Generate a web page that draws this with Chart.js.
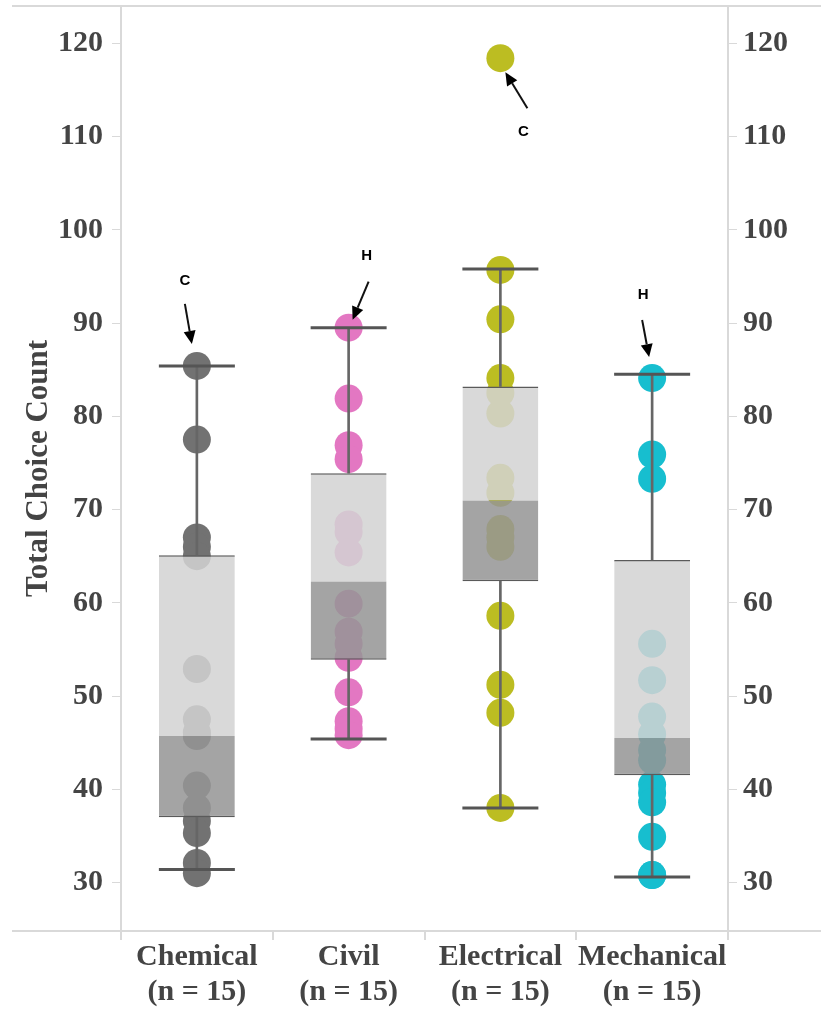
<!DOCTYPE html>
<html>
<head>
<meta charset="utf-8">
<script src="https://cdn.jsdelivr.net/npm/chart.js@4.4.1/dist/chart.umd.min.js"></script>
<style>
  html, body { margin: 0; padding: 0; background: #ffffff; }
  #wrap { width: 821px; height: 1009px; }
</style>
</head>
<body>
<div id="wrap"><canvas id="boxChart" width="821" height="1009"></canvas></div>
<script>
// data
const categories = ['Chemical', 'Civil', 'Electrical', 'Mechanical'];
const sampleSizes = [15, 15, 15, 15];

const chemicalValues = [85.4, 77.5, 67.0, 66.0, 65.0, 52.9, 47.5, 46.1, 45.7, 40.4, 38.0, 36.6, 35.3, 32.1, 31.0];
const civilValues = [89.5, 81.9, 76.9, 75.4, 68.4, 67.6, 65.4, 59.9, 56.9, 55.6, 54.1, 50.4, 47.3, 46.5, 45.8];
const electricalValues = [118.4, 95.7, 90.4, 84.1, 82.5, 80.3, 73.4, 71.8, 67.9, 67.0, 66.0, 58.6, 51.2, 48.2, 38.0];
const mechanicalValues = [84.1, 75.9, 73.3, 55.6, 51.7, 47.8, 45.9, 44.2, 43.1, 40.5, 39.6, 38.6, 34.9, 30.8, 30.8];

const whiskerLow = [31.4, 45.4, 38.0, 30.6];
const q1 = [37.0, 53.9, 62.3, 41.5];
const median = [45.7, 62.3, 71.0, 45.5];
const q3 = [65.1, 73.9, 83.2, 64.6];
const whiskerHigh = [85.4, 89.5, 95.8, 84.5];

const yTicks = [30, 40, 50, 60, 70, 80, 90, 100, 110, 120];

// callouts: category, value pointed at, letter
const calloutCategories = ['Chemical', 'Civil', 'Electrical', 'Mechanical'];
const calloutValues = [85.4, 89.5, 118.4, 84.1];
const calloutLetters = ['C', 'H', 'C', 'H'];

// styles
const pointColors = ['#727272', '#e377c2', '#bcbd22', '#17becf'];
const textColor = '#444444';
const frameColor = '#d9d9d9';
const serifFont = "'Liberation Serif', 'Times New Roman', serif";
// offsets (px) of letter, arrow tail, arrow tip from the marked point
const calloutOffsets = [
    { text: [-12, -85], tail: [-12, -62], tip: [-5, -22] },
    { text: [18, -72], tail: [20, -46], tip: [4, -8] },
    { text: [23, 74], tail: [27, 50], tip: [5, 14] },
    { text: [-9, -83], tail: [-10, -58], tip: [-3, -21] }
];

const valueSets = [chemicalValues, civilValues, electricalValues, mechanicalValues];

function pointDataset(idx) {
    return {
        type: 'scatter',
        label: categories[idx],
        data: valueSets[idx].map(v => ({ x: categories[idx], y: v })),
        backgroundColor: pointColors[idx],
        borderWidth: 0,
        pointRadius: 14,
        pointHoverRadius: 14
    };
}

// arrow + letter plugin
const calloutPlugin = {
    id: 'callouts',
    afterDatasetsDraw(chart) {
        const ctx = chart.ctx;
        const xs = chart.scales.x, ys = chart.scales.y;
        ctx.save();
        calloutCategories.forEach((cat, i) => {
            const px = xs.getPixelForValue(categories.indexOf(cat));
            const py = ys.getPixelForValue(calloutValues[i]);
            const off = calloutOffsets[i];
            const tx = px + off.tail[0], ty = py + off.tail[1];
            const hx = px + off.tip[0], hy = py + off.tip[1];
            const ang = Math.atan2(hy - ty, hx - tx);
            const headLen = 13, headW = 6;
            const bx = hx - Math.cos(ang) * headLen, by = hy - Math.sin(ang) * headLen;
            ctx.strokeStyle = '#111';
            ctx.lineWidth = 2;
            ctx.beginPath();
            ctx.moveTo(tx, ty);
            ctx.lineTo(bx, by);
            ctx.stroke();
            ctx.fillStyle = '#000';
            ctx.beginPath();
            ctx.moveTo(hx, hy);
            ctx.lineTo(bx + Math.sin(ang) * headW, by - Math.cos(ang) * headW);
            ctx.lineTo(bx - Math.sin(ang) * headW, by + Math.cos(ang) * headW);
            ctx.closePath();
            ctx.fill();
            ctx.font = "bold 15px 'Liberation Sans', Arial, sans-serif";
            ctx.textAlign = 'center';
            ctx.textBaseline = 'middle';
            ctx.fillText(calloutLetters[i], px + off.text[0], py + off.text[1]);
        });
        ctx.restore();
    }
};

// long top / bottom rules
const framePlugin = {
    id: 'frame',
    afterDraw(chart) {
        const ctx = chart.ctx;
        const a = chart.chartArea;
        ctx.save();
        ctx.strokeStyle = frameColor;
        ctx.lineWidth = 2;
        ctx.beginPath();
        ctx.moveTo(12, a.top);
        ctx.lineTo(chart.width, a.top);
        ctx.moveTo(12, a.bottom);
        ctx.lineTo(chart.width, a.bottom);
        ctx.stroke();
        ctx.restore();
    }
};

const yAxisCommon = {
    type: 'linear',
    min: 24.8,
    max: 124.0,
    afterBuildTicks: axis => { axis.ticks = yTicks.map(v => ({ value: v })); },
    grid: { drawOnChartArea: false, drawTicks: true, tickLength: 9, color: frameColor, lineWidth: 1 },
    border: { display: true, color: frameColor, width: 2 },
    ticks: { color: textColor, font: { family: serifFont, size: 30, weight: 'bold' } }
};

new Chart(document.getElementById('boxChart').getContext('2d'), {
    type: 'bar',
    data: {
        labels: categories,
        datasets: [
            {
                type: 'scatter',
                label: 'caps',
                data: categories.flatMap((c, i) => [{ x: c, y: whiskerLow[i] }, { x: c, y: whiskerHigh[i] }]),
                pointStyle: 'line',
                pointRadius: 38,
                pointHoverRadius: 38,
                borderColor: '#555555',
                borderWidth: 3
            },
            {
                label: 'upper whisker',
                data: categories.map((c, i) => [q3[i], whiskerHigh[i]]),
                backgroundColor: '#666666',
                barThickness: 2,
                grouped: false
            },
            {
                label: 'lower whisker',
                data: categories.map((c, i) => [whiskerLow[i], q1[i]]),
                backgroundColor: '#666666',
                barThickness: 2,
                grouped: false
            },
            {
                label: 'upper box',
                data: categories.map((c, i) => [median[i], q3[i]]),
                backgroundColor: 'rgba(211,211,211,0.86)',
                borderColor: '#5a5a5a',
                borderWidth: { top: 1.5, bottom: 0, left: 0, right: 0 },
                borderSkipped: false,
                barPercentage: 0.5,
                categoryPercentage: 1,
                grouped: false
            },
            {
                label: 'lower box',
                data: categories.map((c, i) => [q1[i], median[i]]),
                backgroundColor: 'rgba(149,149,149,0.86)',
                borderColor: '#5a5a5a',
                borderWidth: { top: 0, bottom: 1.5, left: 0, right: 0 },
                borderSkipped: false,
                barPercentage: 0.5,
                categoryPercentage: 1,
                grouped: false
            },
            pointDataset(0),
            pointDataset(1),
            pointDataset(2),
            pointDataset(3)
        ]
    },
    options: {
        responsive: false,
        animation: false,
        layout: { autoPadding: false, padding: { top: 6, left: 0, right: 0, bottom: 0 } },
        plugins: {
            legend: { display: false },
            tooltip: { enabled: false }
        },
        scales: {
            x: {
                type: 'category',
                afterFit: axis => { axis.height = 78; axis.paddingLeft = 0; axis.paddingRight = 0; },
                grid: { offset: true, drawOnChartArea: false, drawTicks: true, tickLength: 9, color: frameColor, lineWidth: 2 },
                border: { display: true, color: frameColor, width: 2 },
                ticks: {
                    padding: 0,
                    autoSkip: false,
                    maxRotation: 0,
                    minRotation: 0,
                    color: textColor,
                    font: { family: serifFont, size: 30, weight: 'bold', lineHeight: 1.15 },
                    callback: (v, i) => [categories[i], '(n = ' + sampleSizes[i] + ')']
                }
            },
            y: Object.assign({}, yAxisCommon, {
                position: 'left',
                afterFit: axis => { axis.width = 121; axis.paddingTop = 0; axis.paddingBottom = 0; },
                ticks: Object.assign({}, yAxisCommon.ticks, { padding: 9 }),
                title: {
                    display: true,
                    text: 'Total Choice Count',
                    color: textColor,
                    font: { family: serifFont, size: 31, weight: 'bold' },
                    padding: { top: 20, bottom: 0 }
                }
            }),
            y2: Object.assign({}, yAxisCommon, {
                position: 'right',
                afterFit: axis => { axis.width = 93; axis.paddingTop = 0; axis.paddingBottom = 0; },
                ticks: Object.assign({}, yAxisCommon.ticks, { padding: 6 })
            })
        }
    },
    plugins: [calloutPlugin, framePlugin]
});
</script>
</body>
</html>
